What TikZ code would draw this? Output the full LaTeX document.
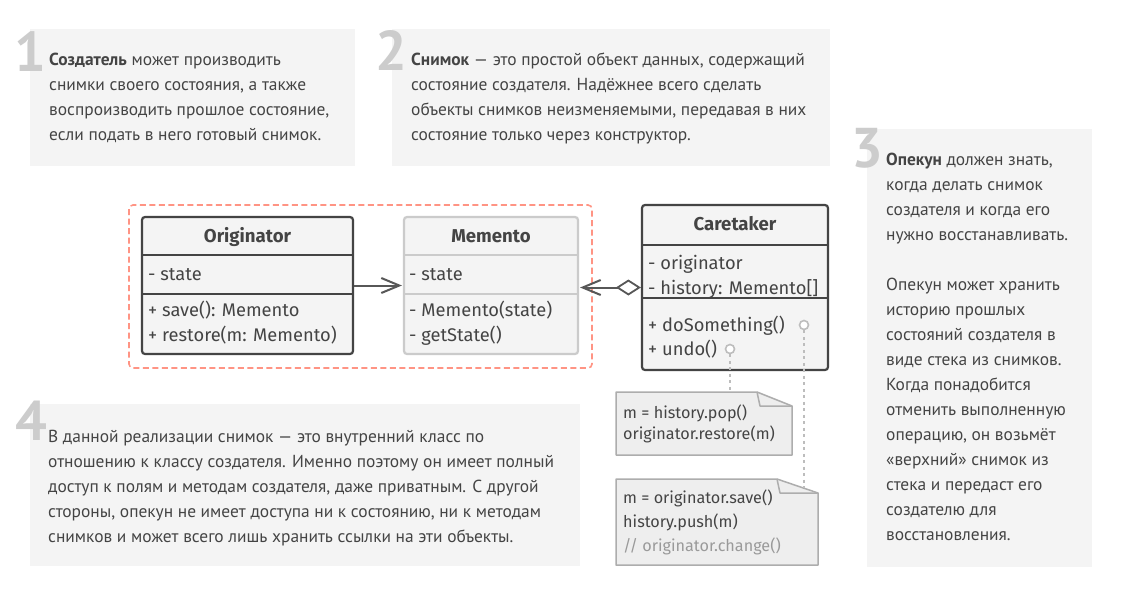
\documentclass[tikz,border=0pt]{standalone}
\usepackage{fontspec}
\setmainfont{PT Sans}
\newfontfamily\umlfont{Fira Sans}
\usetikzlibrary{arrows.meta}
\definecolor{boxbg}{HTML}{F4F4F4}
\definecolor{txt}{HTML}{444444}
\definecolor{numc}{HTML}{CCCCCC}
\definecolor{dashred}{HTML}{FF9484}
\definecolor{lightb}{HTML}{CBCBCB}
\definecolor{notebg}{HTML}{EEEEEE}
\definecolor{noteb}{HTML}{ADADAD}
\definecolor{dotc}{HTML}{BDBDBD}
\definecolor{cmt}{HTML}{9A9A9A}
\begin{document}
\begin{tikzpicture}[x=1pt,y=-1pt,
  para/.style={anchor=north west,inner sep=0pt,align=left,text=txt,font=\fontsize{17.4}{25}\selectfont},
  numeral/.style={anchor=base east,inner sep=0pt,text=numc,font=\fontsize{56}{56}\selectfont\bfseries},
  classbox/.style={draw=#1,fill=boxbg,line width=2.2pt,rounded corners=3pt,inner sep=0pt},
  ctitle/.style={inner sep=0pt,anchor=base,text=txt,font=\umlfont\fontsize{18.6}{20}\selectfont\bfseries},
  member/.style={inner sep=0pt,anchor=base west,text=txt,font=\umlfont\fontsize{18.3}{20}\selectfont},
  notetext/.style={inner sep=0pt,anchor=base west,text=txt,font=\umlfont\fontsize{16.2}{18}\selectfont},
  notepath/.style={fill=notebg,draw=noteb,line width=1.5pt,line join=round},
  dotline/.style={draw=dotc,line width=1.6pt,dash pattern=on 3pt off 3.5pt},
  port/.style={circle,draw=dotc,fill=white,line width=1.6pt,minimum size=9pt,inner sep=0pt},
  barb/.tip={Straight Barb[length=18pt,width=15pt,line width=2pt]},
  assoc/.style={draw=txt!90,line width=2pt,-barb,shorten >=1pt}
]
\useasboundingbox (0,0) rectangle (1130,608);
\fill[white] (0,0) rectangle (1130,608);

% ---- text boxes ----
\fill[boxbg] (30,29) rectangle (355,166);
\fill[boxbg] (392,29) rectangle (830,166);
\fill[boxbg] (867,129) rectangle (1092,567);
\fill[boxbg] (30,404) rectangle (580,566);

\node[numeral] (n1) at (46,71) {1};
\node[numeral] (n2) at (407,70) {2};
\node[numeral] (n3) at (883,167) {3};
\node[numeral] (n4) at (47,440) {4};

\node[para] (p1) at (49,47.5) {\strut\textbf{Создатель} может производить\\
снимки своего состояния, а также\\
воспроизводить прошлое состояние,\\
если подать в него готовый снимок.};

\node[para] (p2) at (411,47.5) {\strut\textbf{Снимок} — это простой объект данных, содержащий\\
состояние создателя. Надёжнее всего сделать\\
объекты снимков неизменяемыми, передавая в них\\
состояние только через конструктор.};

\node[para] (p3) at (886,147.5) {\strut\textbf{Опекун} должен знать,\\
когда делать снимок\\
создателя и когда его\\
нужно восстанавливать.\\[25pt]
Опекун может хранить\\
историю прошлых\\
состояний создателя в\\
виде стека из снимков.\\
Когда понадобится\\
отменить выполненную\\
операцию, он возьмёт\\
«верхний» снимок из\\
стека и передаст его\\
создателю для\\
восстановления.};

\node[para] (p4) at (48,424.5) {\strut В данной реализации снимок — это внутренний класс по\\
отношению к классу создателя. Именно поэтому он имеет полный\\
доступ к полям и методам создателя, даже приватным. С другой\\
стороны, опекун не имеет доступа ни к состоянию, ни к методам\\
снимков и может всего лишь хранить ссылки на эти объекты.};

% ---- dashed group ----
\draw[dashred,line width=1.6pt,dash pattern=on 6pt off 3.5pt,rounded corners=4pt] (129,205) rectangle (592,368);

% ---- Originator ----
\node[classbox=txt,minimum width=211pt,minimum height=137pt] (orig) at (247.5,285.5) {};
\draw[txt,line width=2.2pt] (142,255) -- (353,255) (142,294) -- (353,294);
\node[ctitle] (origT) at (247.5,242.5) {Originator};
\node[member] (o1) at (148,280) {- state};
\node[member] (o2) at (148,316) {+ save(): Memento};
\node[member] (o3) at (148,341) {+ restore(m: Memento)};

% ---- Memento ----
\node[classbox=lightb,minimum width=174pt,minimum height=137pt] (mem) at (491,285.5) {};
\draw[lightb,line width=2.2pt] (404,255) -- (578,255) (404,294) -- (578,294);
\node[ctitle] (memT) at (491,242.5) {Memento};
\node[member] (m1) at (409,280) {- state};
\node[member] (m2) at (409,316) {- Memento(state)};
\node[member] (m3) at (409,341) {- getState()};

% ---- Caretaker ----
\node[classbox=txt,minimum width=186pt,minimum height=165pt] (care) at (735,287.5) {};
\draw[txt,line width=2.2pt] (642,245) -- (828,245) (642,298) -- (828,298);
\node[ctitle] (careT) at (735,230.5) {Caretaker};
\node[member] (c1) at (648,269) {- originator};
\node[member] (c2) at (648,294) {- history: Memento[]};
\node[member] (c3) at (648,331) {+ doSomething()};
\node[member] (c4) at (648,355) {+ undo()};
\node[port] (pDo) at (804,325) {};
\node[port] (pUndo) at (730,349) {};

% ---- relations ----
\draw[assoc] (orig.east) -- (mem.west);
\draw[draw=txt!90,line width=2pt,shorten >=1pt,{Diamond[open,length=25pt,width=16pt,line width=1.8pt]}-barb] (care.west) -- (care.west -| mem.east);

% ---- notes ----
\draw[notepath] (616,392) -- (757,392) -- (792,406) -- (792,455) -- (616,455) -- cycle;
\draw[noteb,line width=1.5pt,line join=round] (757,392) -- (760,406) -- (792,406);
\node[notetext] (t1) at (623,418) {m = history.pop()};
\node[notetext] (t2) at (623,439) {originator.restore(m)};
\coordinate (n1top) at (730,392);

\draw[notepath] (616,479) -- (777,479) -- (818,493) -- (818,565) -- (616,565) -- cycle;
\draw[noteb,line width=1.5pt,line join=round] (777,479) -- (780,493) -- (818,493);
\node[notetext] (t3) at (623,503) {m = originator.save()};
\node[notetext] (t4) at (623,527) {history.push(m)};
\node[notetext,text=cmt] (t5) at (623,551) {// originator.change()};
\coordinate (n2top) at (804,488);

\draw[dotline] (pUndo.south) -- (n1top);
\draw[dotline] (pDo.south) -- (n2top);
\end{tikzpicture}
\end{document}
